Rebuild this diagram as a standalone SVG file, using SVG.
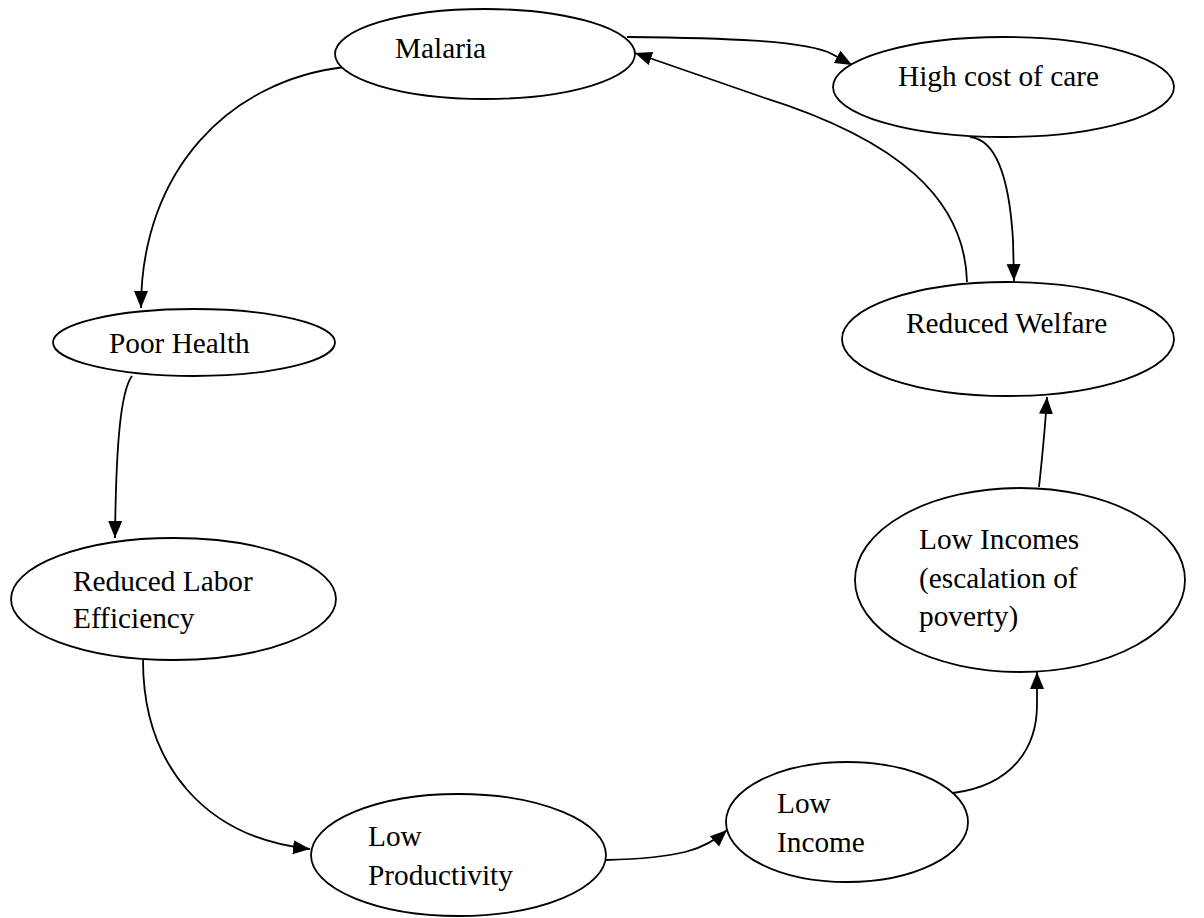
<svg xmlns="http://www.w3.org/2000/svg" width="1204" height="918" viewBox="0 0 1204 918">
<style>
.n{fill:#fff;stroke:#000;stroke-width:1.8}
.t{font-family:"Liberation Serif","Times New Roman",serif;font-size:29.3px;fill:#000}
.c{fill:none;stroke:#000;stroke-width:1.8}
</style>
<defs>
<marker id="ah" markerUnits="userSpaceOnUse" markerWidth="18" markerHeight="16" refX="17" refY="7" orient="auto">
<path d="M0,0 L17,7 L0,14 z" fill="#000"/>
</marker>
</defs>
<rect width="1204" height="918" fill="#fff"/>
<g id="connectors">
<path class="c" d="M627,37 C720,38 805,40 832,54 L852,65" marker-end="url(#ah)"/>
<path class="c" d="M345,67 C230,80 141,170 141,308" marker-end="url(#ah)"/>
<path class="c" d="M132,376 C120,392 116,450 115,538" marker-end="url(#ah)"/>
<path class="c" d="M143,660 C143,765 205,838 310,849" marker-end="url(#ah)"/>
<path class="c" d="M606,860 C680,858 705,850 727,830" marker-end="url(#ah)"/>
<path class="c" d="M953,793 C1015,785 1037,745 1037,705 L1037,672" marker-end="url(#ah)"/>
<path class="c" d="M1039,487 C1043,450 1045,430 1047,397" marker-end="url(#ah)"/>
<path class="c" d="M970,137 C1000,140 1010,190 1013,240 L1014,281" marker-end="url(#ah)"/>
<path class="c" d="M967,282 C965,200 900,140 762,97 L635,53" marker-end="url(#ah)"/>
</g>
<g id="malaria">
<ellipse class="n" cx="485" cy="54" rx="150" ry="45"/>
<text class="t" x="395" y="58">Malaria</text>
</g>
<g id="high-cost">
<ellipse class="n" cx="1003.5" cy="87" rx="170.5" ry="50"/>
<text class="t" x="898" y="86">High cost of care</text>
</g>
<g id="reduced-welfare">
<ellipse class="n" cx="1008" cy="339" rx="166" ry="57"/>
<text class="t" x="906" y="333">Reduced Welfare</text>
</g>
<g id="low-incomes">
<ellipse class="n" cx="1020" cy="580" rx="165" ry="92"/>
<text class="t" x="919" y="549">Low Incomes</text>
<text class="t" x="919" y="588">(escalation of</text>
<text class="t" x="919" y="626">poverty)</text>
</g>
<g id="low-income">
<ellipse class="n" cx="847" cy="822" rx="121" ry="60"/>
<text class="t" x="777" y="813">Low</text>
<text class="t" x="777" y="852">Income</text>
</g>
<g id="low-productivity">
<ellipse class="n" cx="458.5" cy="855" rx="147.5" ry="61"/>
<text class="t" x="368" y="846">Low</text>
<text class="t" x="368" y="885">Productivity</text>
</g>
<g id="reduced-labor">
<ellipse class="n" cx="173.5" cy="599" rx="162.5" ry="61"/>
<text class="t" x="73" y="591">Reduced Labor</text>
<text class="t" x="73" y="628">Efficiency</text>
</g>
<g id="poor-health">
<ellipse class="n" cx="194" cy="342.5" rx="141" ry="33.5"/>
<text class="t" x="109" y="353">Poor Health</text>
</g>
</svg>
